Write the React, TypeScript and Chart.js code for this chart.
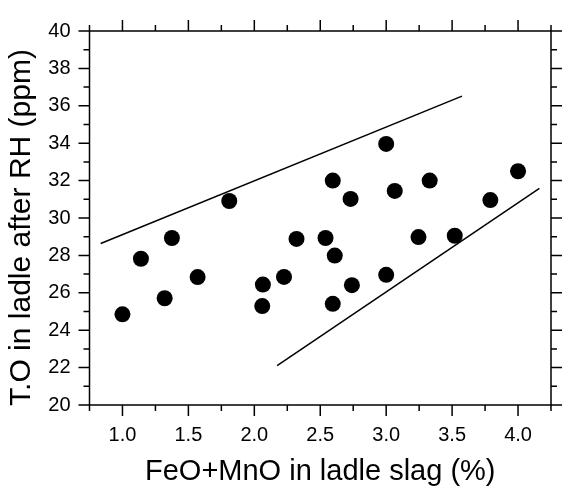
import React, { useEffect, useRef } from 'react';
import { Chart, registerables } from 'chart.js';

Chart.register(...registerables);

// FeO+MnO in ladle slag (%)
const slagFeOMnO = [1.0, 1.14, 1.32, 1.375, 1.57, 1.81, 2.065, 2.06, 2.225, 2.32, 2.54, 2.595, 2.61, 2.595, 2.73, 2.74, 3.0, 3.0, 3.065, 3.245, 3.33, 3.52, 3.79, 4.0];
// T.O in ladle after RH (ppm)
const totalOxygen = [24.85, 27.82, 25.71, 28.93, 26.84, 30.91, 26.44, 25.29, 26.85, 28.88, 28.93, 32.0, 27.99, 25.41, 31.02, 26.41, 33.96, 26.96, 31.45, 28.98, 32.0, 29.05, 30.96, 32.5];

// boundary lines
const upperBoundX = [0.835, 3.575];
const upperBoundY = [28.64, 36.52];
const lowerBoundX = [2.173, 4.162];
const lowerBoundY = [22.1, 31.59];

// axes
const xMin = 0.75;
const xMax = 4.25;
const xMajorTicks = [1.0, 1.5, 2.0, 2.5, 3.0, 3.5, 4.0];
const yMin = 20;
const yMax = 40;
const yMajorTicks = [20, 22, 24, 26, 28, 30, 32, 34, 36, 38, 40];

const xTitle = 'FeO+MnO in ladle slag (%)';
const yTitle = 'T.O in ladle after RH (ppm)';

const FONT = "'Liberation Sans', Arial, Helvetica, sans-serif";

const isMajor = (list: number[], v: number) => list.some((m) => Math.abs(m - v) < 1e-6);

const framePlugin = {
  id: 'frameTicks',
  afterDraw(chart: any) {
    const { ctx, chartArea } = chart;
    const { left, right, top, bottom } = chartArea;
    const xs = chart.scales.x;
    const ys = chart.scales.y;
    const majorLen = 11;
    const minorLen = 6;
    ctx.save();
    ctx.strokeStyle = '#000';
    ctx.lineWidth = 1.5;
    ctx.strokeRect(left, top, right - left, bottom - top);
    ctx.beginPath();
    xs.ticks.forEach((t: any) => {
      const px = xs.getPixelForValue(t.value);
      const len = isMajor(xMajorTicks, t.value) ? majorLen : minorLen;
      ctx.moveTo(px, bottom);
      ctx.lineTo(px, bottom + len);
      ctx.moveTo(px, top);
      ctx.lineTo(px, top - len);
    });
    ys.ticks.forEach((t: any) => {
      const py = ys.getPixelForValue(t.value);
      const len = isMajor(yMajorTicks, t.value) ? majorLen : minorLen;
      ctx.moveTo(left, py);
      ctx.lineTo(left - len, py);
      ctx.moveTo(right, py);
      ctx.lineTo(right + len, py);
    });
    ctx.stroke();

    // axis titles
    ctx.fillStyle = '#000';
    ctx.textBaseline = 'middle';
    ctx.textAlign = 'center';
    ctx.font = `29px ${FONT}`;
    ctx.fillText(xTitle, (left + right) / 2, 472);
    ctx.save();
    ctx.translate(21.5, 227.5);
    ctx.rotate(-Math.PI / 2);
    ctx.font = `30px ${FONT}`;
    ctx.fillText(yTitle, 0, 0);
    ctx.restore();
    ctx.restore();
  },
};

export default function App() {
  const canvasRef = useRef<HTMLCanvasElement | null>(null);

  useEffect(() => {
    if (!canvasRef.current) return;
    const points = slagFeOMnO.map((x, i) => ({ x, y: totalOxygen[i] }));
    const upper = upperBoundX.map((x, i) => ({ x, y: upperBoundY[i] }));
    const lower = lowerBoundX.map((x, i) => ({ x, y: lowerBoundY[i] }));

    const chart = new Chart(canvasRef.current, {
      type: 'scatter',
      data: {
        datasets: [
          {
            label: 'upper',
            data: upper,
            showLine: true,
            borderColor: '#000',
            borderWidth: 1.5,
            pointRadius: 0,
            fill: false,
          },
          {
            label: 'lower',
            data: lower,
            showLine: true,
            borderColor: '#000',
            borderWidth: 1.5,
            pointRadius: 0,
            fill: false,
          },
          {
            label: 'T.O',
            data: points,
            backgroundColor: '#000',
            borderColor: '#000',
            borderWidth: 0,
            pointRadius: 8,
            pointHoverRadius: 8,
          },
        ],
      },
      options: {
        responsive: false,
        animation: false,
        devicePixelRatio: 1,
        layout: { padding: { top: 17, right: 8, left: 0, bottom: 0 } },
        plugins: {
          legend: { display: false },
          tooltip: { enabled: false },
        },
        scales: {
          x: {
            type: 'linear',
            min: xMin,
            max: xMax,
            grid: { display: false, drawTicks: false },
            border: { display: false },
            ticks: {
              stepSize: 0.25,
              autoSkip: false,
              maxRotation: 0,
              padding: 18,
              color: '#000',
              font: { family: FONT, size: 20 },
              callback: (v: any) => (isMajor(xMajorTicks, Number(v)) ? Number(v).toFixed(1) : ''),
            },
            afterFit: (scale: any) => {
              scale.height = 84;
            },
          },
          y: {
            type: 'linear',
            min: yMin,
            max: yMax,
            grid: { display: false, drawTicks: false },
            border: { display: false },
            ticks: {
              stepSize: 1,
              autoSkip: false,
              padding: 19,
              color: '#000',
              font: { family: FONT, size: 20 },
              callback: (v: any) => (isMajor(yMajorTicks, Number(v)) ? String(Number(v)) : ''),
            },
            afterFit: (scale: any) => {
              scale.width = 89.5;
            },
          },
        },
      },
      plugins: [framePlugin],
    });
    return () => chart.destroy();
  }, []);

  return (
    <div style={{ position: 'absolute', left: 0, top: 0, width: 569, height: 489, background: '#fff' }}>
      <canvas ref={canvasRef} width={569} height={489} />
    </div>
  );
}
